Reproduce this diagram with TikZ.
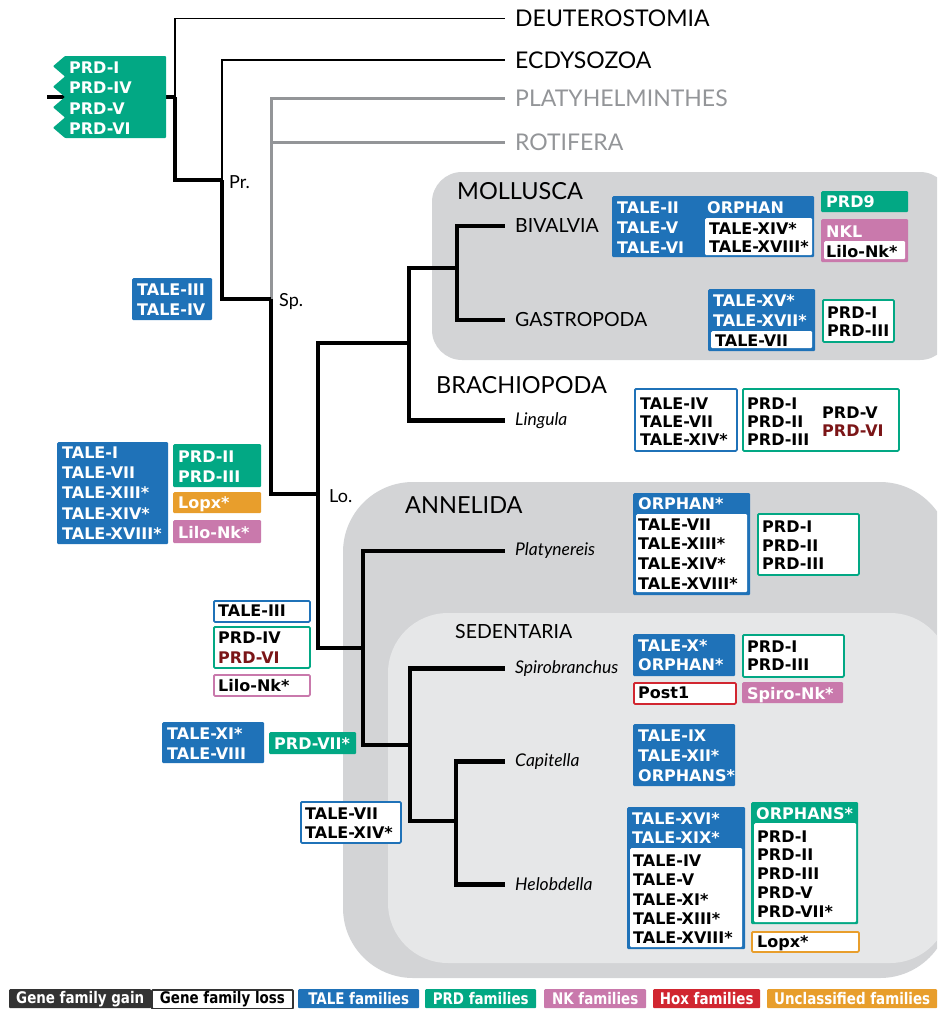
\documentclass[tikz,border=0pt]{standalone}
\usepackage{fontspec}
\setmainfont{Lato}
\newfontfamily\boxfam{DejaVu Sans}
\newfontfamily\legfam[FakeStretch=0.84]{DejaVu Sans}
\definecolor{tale}{HTML}{1F72B8}
\definecolor{prd}{HTML}{02A884}
\definecolor{nk}{HTML}{C979AC}
\definecolor{hox}{HTML}{D12630}
\definecolor{unc}{HTML}{E89E2C}
\definecolor{dred}{HTML}{7B1517}
\definecolor{legdark}{HTML}{333333}
\definecolor{lgray}{HTML}{939598}
\definecolor{bgA}{HTML}{D3D4D6}
\definecolor{bgB}{HTML}{E6E7E8}
\newcommand\famframe[6]{\node[#2, anchor=north west, minimum width={#5-#3}, minimum height={#6-#4}] (#1) at (#3,#4) {};}
\newcommand\famtext[6][19.7]{\node[ftext, text=#5, font={\boxfam\bfseries\fontsize{16}{#1}\selectfont}, anchor=north west] (#2) at (#3,{#4-5.85}) {#6};}
\tikzset{
  fF/.style={fill=#1, draw=none, rounded corners=1.2, inner sep=0pt},
  fO/.style={fill=white, draw=#1, line width=1.8, rounded corners=1.2, inner sep=0pt},
  ftext/.style={align=left, inner sep=0pt},
  thinln/.style={line width=1.7, black},
  thickln/.style={line width=4.5, black},
  grayln/.style={line width=3, lgray},
  leafbig/.style={anchor=west, inner xsep=10pt, inner ysep=0pt, font=\fontsize{23}{26}\selectfont},
  leafmid/.style={anchor=west, inner xsep=10pt, inner ysep=0pt, font=\fontsize{19.5}{22}\selectfont},
  leafit/.style={anchor=west, inner xsep=10pt, inner ysep=0pt, font=\itshape\fontsize{17.5}{20}\selectfont},
  grp/.style={anchor=west, inner sep=0pt, font=\fontsize{23.5}{26}\selectfont},
  grpmid/.style={anchor=west, inner sep=0pt, font=\fontsize{19.5}{22}\selectfont},
  intl/.style={anchor=west, inner sep=0pt, font=\fontsize{18}{20}\selectfont},
  leg/.style={anchor=north west, inner sep=0pt, minimum height=19, rounded corners=1, font=\legfam\bfseries\fontsize{16}{18}\selectfont}
}
\begin{document}
\begin{tikzpicture}[x=1pt, y=-1pt]
\useasboundingbox (0,0) rectangle (937,1009);
% backgrounds
\begin{scope}
\clip (0,0) rectangle (937,1009);
\fill[bgA, rounded corners=30] (432,172) rectangle (950,360);
\fill[bgA, rounded corners=70] (343,482) rectangle (950,978);
\fill[bgB, rounded corners=60] (388,613) rectangle (950,963);
\end{scope}
% group labels
\node[grp] (mol) at (457,191) {MOLLUSCA};
\node[grp] (bra) at (436,385) {BRACHIOPODA};
\node[grp] (ann) at (405,505) {ANNELIDA};
\node[grpmid] (sed) at (455,632) {SEDENTARIA};
% leaves
\node[leafbig] (deut) at (505,18.5) {DEUTEROSTOMIA};
\node[leafbig] (ecd) at (505,60) {ECDYSOZOA};
\node[leafbig, text=lgray] (platy) at (505,98) {PLATYHELMINTHES};
\node[leafbig, text=lgray] (rot) at (505,142) {ROTIFERA};
\node[leafmid] (biv) at (505,226) {BIVALVIA};
\node[leafmid] (gast) at (505,320) {GASTROPODA};
\node[leafit] (ling) at (505,420.5) {Lingula};
\node[leafit] (platyn) at (505,551) {Platynereis};
\node[leafit] (spiro) at (505,668.5) {Spirobranchus};
\node[leafit] (capi) at (505,761.5) {Capitella};
\node[leafit] (helo) at (505,884.5) {Helobdella};
% internal nodes
\coordinate (stub) at (47,97);
\coordinate (R) at (175,97);
\coordinate (Pr) at (222,180);
\coordinate (Sp) at (271,299);
\coordinate (Lo) at (318,494);
\coordinate (LB) at (409,343);
\coordinate (Mo) at (457,268);
\coordinate (An) at (363,648);
\coordinate (Se) at (410,745);
\coordinate (CH) at (456,821);
\node[intl] (prl) at (229,182) {Pr.};
\node[intl] (spl) at (279,302) {Sp.};
\node[intl] (lol) at (329,496) {Lo.};
% tree
\draw[thinln] (R) |- (deut.west);
\draw[thinln] (Pr) |- (ecd.west);
\draw[grayln] (Sp) |- (platy.west);
\draw[grayln] (Sp) |- (rot.west);
\draw[thickln] (stub) -- (R);
\draw[thickln] (R) |- (Pr);
\draw[thickln] (Pr) |- (Sp);
\draw[thickln] (Sp) |- (Lo);
\draw[thickln] (Lo) |- (LB);
\draw[thickln] (Lo) |- (An);
\draw[thickln] (LB) |- (Mo);
\draw[thickln] (LB) |- (ling.west);
\draw[thickln] (Mo) |- (biv.west);
\draw[thickln] (Mo) |- (gast.west);
\draw[thickln] (An) |- (platyn.west);
\draw[thickln] (An) |- (Se);
\draw[thickln] (Se) |- (spiro.west);
\draw[thickln] (Se) |- (CH);
\draw[thickln] (CH) |- (capi.west);
\draw[thickln] (CH) |- (helo.west);
% root PRD box
\fill[prd, rounded corners=0.8] (166,56) -- (65,56) -- (53,66.25) -- (65,76.5) -- (53,86.75) -- (65,97) -- (53,107.25) -- (65,117.5) -- (53,127.75) -- (65,138) -- (166,138) -- cycle;
\famtext[20.3]{rootprd}{69}{67.5}{white}{PRD-I\\PRD-IV\\PRD-V\\PRD-VI}
% Sp. losses
\famframe{spb}{fF=tale}{132}{278}{212}{320}
\famtext[20]{spt}{137}{289}{white}{TALE-III\\TALE-IV}
% Lo. gains
\famframe{lob}{fF=tale}{57}{442}{168}{544}
\famtext[20.2]{lot}{62}{452.5}{white}{TALE-I\\TALE-VII\\TALE-XIII*\\TALE-XIV*\\TALE-XVIII*}
\famframe{lop}{fF=prd}{173}{444}{261}{487}
\famtext[20]{lopt}{178}{456}{white}{PRD-II\\PRD-III}
\famframe{lox}{fF=unc}{173}{492}{261}{513}
\famtext{loxt}{178}{502.5}{white}{Lopx*}
\famframe{lon}{fF=nk}{173}{520}{261}{543}
\famtext{lont}{178}{531.5}{white}{Lilo-Nk*}
% Annelida losses
\famframe{a1}{fO=tale}{213}{600}{309}{621}
\famtext{a1t}{218}{610.5}{black}{TALE-III}
\famframe{a2}{fO=prd}{213}{626}{309}{667}
\famtext[19.5]{a2t}{218}{637.5}{black}{PRD-IV\\\textcolor{dred}{PRD-VI}}
\famframe{a3}{fO=nk}{213}{674}{309}{695}
\famtext{a3t}{218}{685}{black}{Lilo-Nk*}
% Sedentaria gains
\famframe{s1}{fF=tale}{162}{722}{264}{763}
\famtext[20]{s1t}{167}{733}{white}{TALE-XI*\\TALE-VIII}
\famframe{s2}{fF=prd}{269}{732}{356}{754}
\famtext{s2t}{274}{743}{white}{PRD-VII*}
% Capitella+Helobdella losses
\famframe{c1}{fO=tale}{300}{801}{400}{842}
\famtext[19.3]{c1t}{305}{813}{black}{TALE-VII\\TALE-XIV*}
% Bivalvia
\famframe{bv}{fF=tale}{612}{196}{814}{257}
\famframe{bvw}{fF=white}{705}{218}{812}{255}
\famtext[20]{bvt1}{617}{207}{white}{TALE-II\\TALE-V\\TALE-VI}
\famtext{bvt2}{707}{207}{white}{ORPHAN}
\famtext[17.5]{bvt3}{709}{228.5}{black}{TALE-XIV*\\TALE-XVIII*}
\famframe{p9}{fF=prd}{821}{191}{908}{212}
\famtext{p9t}{826}{201.5}{white}{PRD9}
\famframe{nkl}{fF=nk}{821}{219}{908}{262}
\famframe{nklw}{fF=white}{824}{241}{905}{259}
\famtext{nklt}{826}{231}{white}{NKL}
\famtext{nklt2}{826}{250.5}{black}{Lilo-Nk*}
% Gastropoda
\famframe{gs}{fF=tale}{708}{289}{815}{351}
\famframe{gsw}{fF=white}{711}{331}{812}{348}
\famtext[19.5]{gst1}{713}{300.5}{white}{TALE-XV*\\TALE-XVII*}
\famtext{gst2}{715}{340}{black}{TALE-VII}
\famframe{gp}{fO=prd}{822}{299}{893}{341}
\famtext[17.7]{gpt}{827}{312.5}{black}{PRD-I\\PRD-III}
% Brachiopoda
\famframe{br1}{fO=tale}{634}{388}{736}{450}
\famtext[18.3]{br1t}{640}{403}{black}{TALE-IV\\TALE-VII\\TALE-XIV*}
\famframe{br2}{fO=prd}{742}{388}{898}{450}
\famtext[18.3]{br2t}{747}{403}{black}{PRD-I\\PRD-II\\PRD-III}
\famtext[18.3]{br3t}{822}{412}{black}{PRD-V\\\textcolor{dred}{PRD-VI}}
% Platynereis
\famframe{pl}{fF=tale}{633}{493}{750}{595}
\famframe{plw}{fF=white}{636}{514}{747}{592}
\famtext{plt1}{638}{503.5}{white}{ORPHAN*}
\famtext[19.8]{plt2}{638}{524}{black}{TALE-VII\\TALE-XIII*\\TALE-XIV*\\TALE-XVIII*}
\famframe{pl2}{fO=prd}{757}{513}{858}{574}
\famtext[18.5]{pl2t}{762}{526.5}{black}{PRD-I\\PRD-II\\PRD-III}
% Spirobranchus
\famframe{sp1}{fF=tale}{633}{634}{735}{676}
\famtext[19]{sp1t}{638}{645}{white}{TALE-X*\\ORPHAN*}
\famframe{sp2}{fO=prd}{742}{634}{843}{676}
\famtext[17.5]{sp2t}{747}{646.5}{black}{PRD-I\\PRD-III}
\famframe{sp3}{fO=hox}{633}{682}{735}{703}
\famtext{sp3t}{638}{692.5}{black}{Post1}
\famframe{sp4}{fF=nk}{742}{682}{843}{703}
\famtext{sp4t}{747}{692.5}{white}{Spiro-Nk*}
% Capitella
\famframe{cp}{fF=tale}{633}{724}{735}{786}
\famtext[20]{cpt}{638}{735}{white}{TALE-IX\\TALE-XII*\\ORPHANS*}
% Helobdella
\famframe{hb}{fF=tale}{627}{807}{745}{949}
\famframe{hbw}{fF=white}{630}{848}{742}{947}
\famtext[19]{hbt1}{632}{818}{white}{TALE-XVI*\\TALE-XIX*}
\famtext[19.3]{hbt2}{633}{860.5}{black}{TALE-IV\\TALE-V\\TALE-XI*\\TALE-XIII*\\TALE-XVIII*}
\famframe{hg}{fF=prd}{751}{802}{858}{924}
\famframe{hgw}{fF=white}{754}{823}{856}{922}
\famtext{hgt1}{756}{813}{white}{ORPHANS*}
\famtext[18.8]{hgt2}{757}{836}{black}{PRD-I\\PRD-II\\PRD-III\\PRD-V\\PRD-VII*}
\famframe{hx}{fO=unc}{751}{931}{858}{951}
\famtext{hxt}{757}{941}{black}{Lopx*}
% legend
\node[leg, fill=legdark, text=white, minimum width=142] (lg1) at (9,989) {Gene family gain};
\node[leg, fill=white, draw=legdark, line width=1.8, text=black, minimum width=141] (lg2) at (151,989) {Gene family loss};
\node[leg, fill=tale, text=white, minimum width=121] (lg3) at (298,989) {TALE families};
\node[leg, fill=prd, text=white, minimum width=111] (lg4) at (425,989) {PRD families};
\node[leg, fill=nk, text=white, minimum width=102] (lg5) at (544,989) {NK families};
\node[leg, fill=hox, text=white, minimum width=107] (lg6) at (653,989) {Hox families};
\node[leg, fill=unc, text=white, minimum width=170] (lg7) at (767,989) {Unclassified families};
\end{tikzpicture}
\end{document}
